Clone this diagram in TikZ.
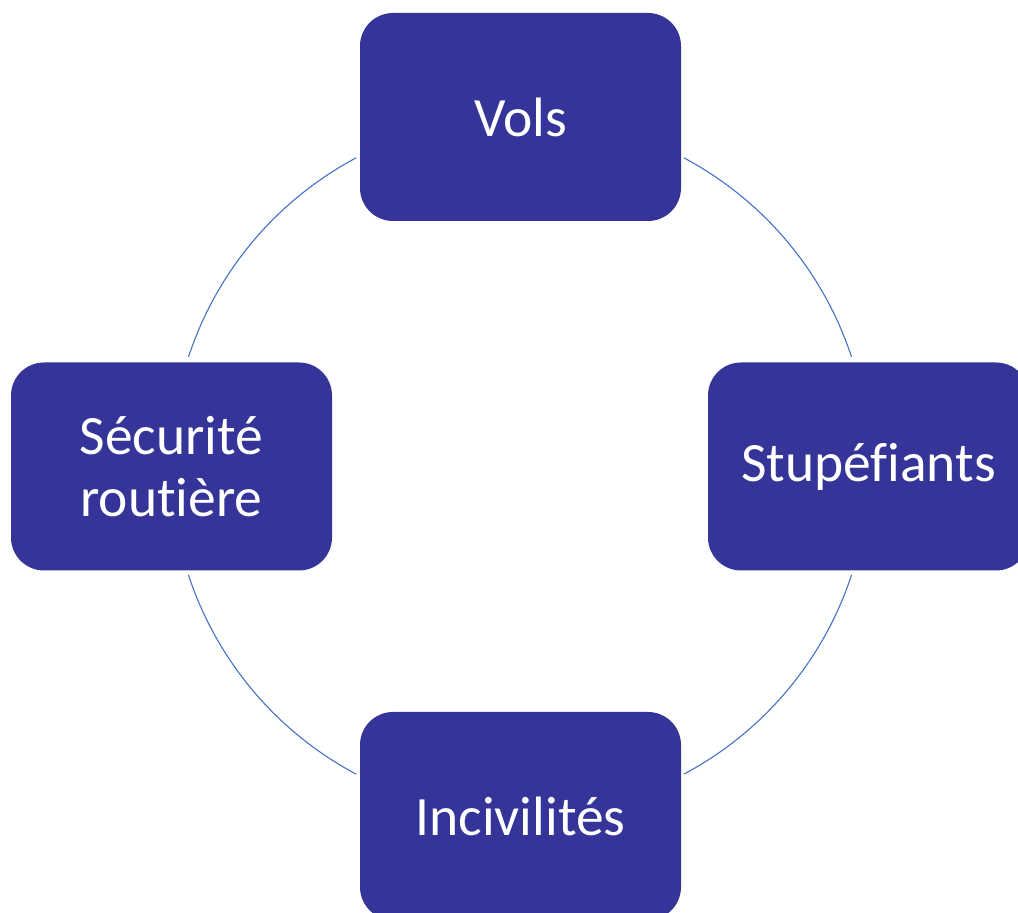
\documentclass[tikz,border=0pt]{standalone}
\usepackage{fontspec}
\setmainfont{Carlito}[Ligatures=NoCommon]
\definecolor{boxblue}{RGB}{52,52,153}
\definecolor{ringblue}{RGB}{68,114,196}
\begin{document}
\begin{tikzpicture}[x=1pt,y=1pt,
  box/.style={fill=boxblue, rounded corners=33pt, minimum width=321pt, minimum height=208pt,
    inner sep=0pt, text=white, font=\fontsize{55.5pt}{61.6pt}\selectfont, align=center},
  ring/.style={draw=ringblue, line width=1.1pt}]
\useasboundingbox (0,0) rectangle (1018,913);
\clip (0,0) rectangle (1018,913);
\coordinate (c) at (520,447);
\draw[ring] (c) ++(18.2:349) arc[start angle=18.2, end angle=62, radius=349];
\draw[ring] (c) ++(118:349) arc[start angle=118, end angle=161.8, radius=349];
\draw[ring] (c) ++(198.2:349) arc[start angle=198.2, end angle=242, radius=349];
\draw[ring] (c) ++(298:349) arc[start angle=298, end angle=341.8, radius=349];
\node[box] (vols) at (520.5,796) {Vols};
\node[box] (stup) at (868.5,446.5) {Stupéfiants};
\node[box] (secu) at (171.5,446.5) {Sécurité\\routière};
\node[box] (inci) at (520.5,97) {Incivilités};
\end{tikzpicture}
\end{document}
